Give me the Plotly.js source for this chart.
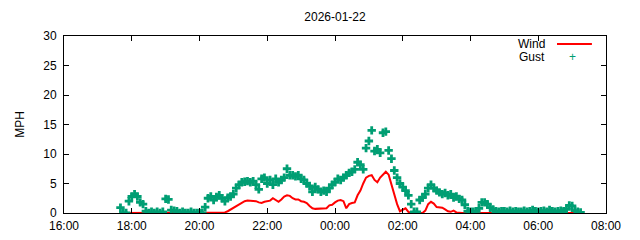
<!DOCTYPE html>
<html>
<head>
<meta charset="utf-8">
<script src="https://cdn.plot.ly/plotly-3.0.1.min.js"></script>
<style>html,body{margin:0;padding:0;background:#fff;}#chart{width:640px;height:240px;}</style>
</head>
<body>
<div id="chart"></div>
<script>
// Samples every 5 minutes starting 2026-01-21 17:40
const startTime = "2026-01-21T17:40:00";
const stepMinutes = 5;

const gust = [
  0.9, 0, 0, 2.0, 2.8, 3.2, 2.8, 1.8, 1.5, 0.3, 0, 0.2,            // 17:40-18:35
  0, 0.2, 0, 0.2, 2.4, 2.3, 0.5, 0.4, 0.3, 0, 0.2, 0,              // 18:40-19:35
  0, 0.2, 0, 0, 0, 0, 1.0, 2.5, 2.8, 2.2, 2.7, 3.0,                // 19:40-20:35
  2.5, 2.0, 2.6, 2.8, 3.2, 4.2, 4.8, 5.2, 5.3, 5.4, 5.2, 5.4,      // 20:40-21:35
  4.8, 4.0, 5.8, 6.0, 5.0, 5.6, 4.8, 5.8, 5.2, 5.6, 6.0, 7.5,      // 21:40-22:35
  6.4, 6.4, 6.2, 6.4, 5.8, 5.6, 5.0, 4.6, 3.6, 4.4, 4.0, 3.6,      // 22:40-23:35
  3.8, 3.6, 4.2, 4.8, 5.2, 5.8, 5.6, 6.0, 6.4, 6.8, 7.0, 7.4,      // 23:40-00:35
  8.6, 8.2, 7.4, 11.0, 12.2, 14.0, 10.5, 10.8, 10.2, 13.6, 13.8, 10.6, // 00:40-01:35
  9.2, 7.2, 6.0, 5.0, 4.4, 3.8, 3.0, 1.5, 0.2, 0.2, 2.2, 2.6,      // 01:40-02:35
  3.2, 4.2, 4.8, 4.2, 3.8, 3.5, 3.2, 3.4, 3.0, 3.2, 2.6, 2.8,      // 02:40-03:35
  2.4, 2.2, 1.4, 0.3, 0.2, 0.2, 0.3, 0.8, 1.8, 1.8, 1.5, 0.9,      // 03:40-04:35
  0.6, 0.3, 0.2, 0.3, 0.3, 0.2, 0.4, 0.2, 0.3, 0.2, 0.2, 0.4,      // 04:40-05:35
  0.2, 0.3, 0.5, 0.3, 0.2, 0.3, 0.4, 0.2, 0.5, 0.3, 0.2, 0.3,      // 05:40-06:35
  0.4, 0.3, 0.6, 1.3, 1.2, 0.4, 0.2, 0.1                           // 06:40-07:15
];

const wind = [
  0, 0, 0, 0, 0, 0, 0, 0, 0, 0, 0, 0,                              // 17:40-18:35
  0, 0, 0, 0, 0, 0, 0, 0, 0, 0, 0, 0,                              // 18:40-19:35
  0, 0, 0, 0, 0, 0, 0, 0, 0, 0, 0, 0.1,                            // 19:40-20:35
  0.1, 0.1, 0.3, 0.6, 0.9, 1.1, 1.5, 1.8, 2.0, 2.1, 2.1, 2.0,      // 20:40-21:35
  2.0, 1.8, 1.7, 1.9, 2.0, 2.1, 2.5, 2.2, 1.9, 2.3, 2.8, 3.0,      // 21:40-22:35
  2.9, 2.5, 2.3, 2.3, 2.0, 1.9, 1.7, 1.2, 0.8, 0.7, 0.7, 0.7,      // 22:40-23:35
  0.8, 0.8, 1.3, 1.4, 1.8, 2.1, 2.2, 2.0, 0.8, 1.5, 1.7, 1.8,      // 23:40-00:35
  3.0, 3.8, 5.0, 6.0, 6.3, 6.4, 5.6, 5.2, 6.0, 6.6, 7.0, 6.5,      // 00:40-01:35
  4.8, 3.0, 1.5, 0.3, 0.6, 0.8, 0.2, 0, 0, 0, 0, 0,                // 01:40-02:35
  0.4, 1.5, 1.9, 1.6, 1.0, 0.9, 0.9, 0.6, 0.3, 0.2, 0.4, 0.1,      // 02:40-03:35
  0, 0, 0, 0, 0, 0, 0, 0, 0, 0, 0, 0,                              // 03:40-04:35
  0, 0, 0, 0, 0, 0, 0, 0, 0, 0, 0, 0,                              // 04:40-05:35
  0, 0, 0, 0, 0, 0, 0, 0, 0, 0, 0, 0,                              // 05:40-06:35
  0, 0, 0, 0, 0, 0, 0, 0                                           // 06:40-07:15
];

const chartTitle = "2026-01-22";
const yTitle = "MPH";
const windLabel = "Wind";
const gustLabel = "Gust";

function pad(n){return (n<10?"0":"")+n;}
function buildTimes(n){
  const t0 = new Date(startTime + "Z").getTime();
  const out = [];
  for (let i=0;i<n;i++){
    const d = new Date(t0 + i*stepMinutes*60000);
    out.push(d.getUTCFullYear()+"-"+pad(d.getUTCMonth()+1)+"-"+pad(d.getUTCDate())+" "+pad(d.getUTCHours())+":"+pad(d.getUTCMinutes()));
  }
  return out;
}
const times = buildTimes(gust.length);

const font = {family: "Liberation Sans, Arial, sans-serif", size: 12, color: "#000"};

const traces = [
  {
    x: times, y: wind, type: "scatter", mode: "lines", name: windLabel,
    line: {color: "#ff0000", width: 2}, showlegend: false
  },
  {
    x: times, y: gust, type: "scatter", mode: "markers", name: gustLabel,
    marker: {symbol: "cross", size: 7, color: "#009e73", line: {width: 0}},
    showlegend: false
  }
];

const layout = {
  width: 640, height: 240,
  margin: {l: 64, r: 34, t: 36, b: 27, pad: 0},
  paper_bgcolor: "#fff", plot_bgcolor: "#fff",
  font: font,
  title: {text: chartTitle, x: 0.5, xref: "paper", y: 0.93, yref: "container", xanchor: "center", yanchor: "middle", font: font},
  xaxis: {
    type: "date",
    range: ["2026-01-21 16:00", "2026-01-22 08:00"],
    dtick: 7200000, tick0: "2026-01-21 16:00",
    tickformat: "%H:%M",
    ticks: "inside", ticklen: 5, tickcolor: "#000",
    showline: true, linecolor: "#000", linewidth: 1, mirror: "ticks",
    showgrid: false, zeroline: false, tickfont: font, automargin: false,
    ticklabelstandoff: 2
  },
  yaxis: {
    range: [0, 30], dtick: 5,
    ticks: "inside", ticklen: 5, tickcolor: "#000",
    showline: true, linecolor: "#000", linewidth: 1, mirror: "ticks",
    showgrid: false, zeroline: false, tickfont: font, automargin: false,
    ticklabelstandoff: 4,
    title: {text: yTitle, font: font, standoff: 16}
  },
  annotations: [
    {xref: "paper", yref: "paper", x: 0.891, y: 0.955, text: windLabel, showarrow: false, xanchor: "right", yanchor: "middle", font: font},
    {xref: "paper", yref: "paper", x: 0.891, y: 0.881, text: gustLabel, showarrow: false, xanchor: "right", yanchor: "middle", font: font},
    {xref: "paper", yref: "paper", x: 0.939, y: 0.881, text: "+", showarrow: false, xanchor: "center", yanchor: "middle", font: {family: font.family, size: 12, color: "#009e73"}}
  ],
  shapes: [
    {type: "line", xref: "paper", yref: "paper", x0: 0.9096, x1: 0.974, y0: 0.955, y1: 0.955, line: {color: "#ff0000", width: 2}}
  ]
};

Plotly.newPlot("chart", traces, layout, {staticPlot: true, displayModeBar: false});
</script>
</body>
</html>
